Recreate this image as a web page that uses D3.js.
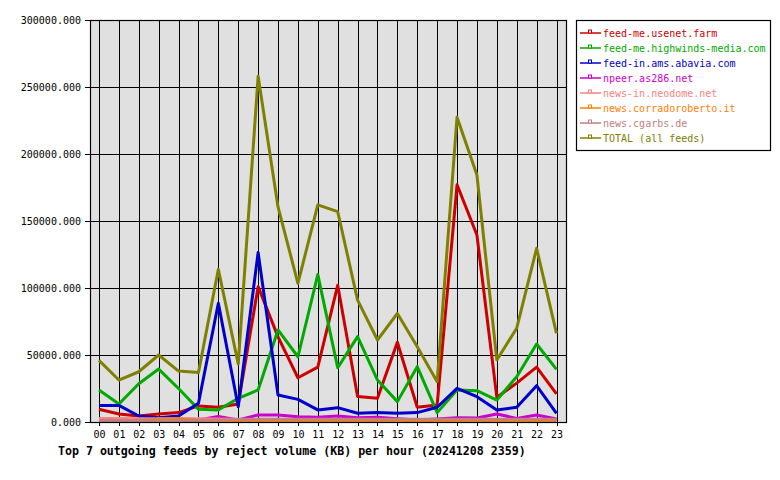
<!DOCTYPE html>
<html>
<head>
<meta charset="utf-8">
<script src="https://cdn.jsdelivr.net/npm/d3@7"></script>
<style>
  body { margin: 0; background: #fff; }
  text { font-family: "DejaVu Sans Mono", "Liberation Mono", monospace; }
</style>
</head>
<body>
<div id="chart"></div>
<script>
const hours = ["00","01","02","03","04","05","06","07","08","09","10","11",
               "12","13","14","15","16","17","18","19","20","21","22","23"];

const feedNames = ["feed-me.usenet.farm", "feed-me.highwinds-media.com", "feed-in.ams.abavia.com",
  "npeer.as286.net", "news-in.neodome.net", "news.corradoroberto.it", "news.cgarbs.de", "TOTAL (all feeds)"];
const feedColors = ["#cc0000", "#00aa00", "#0000cc", "#cc00cc", "#ff8080", "#ff8000", "#c08080", "#808000"];

// KB per hour
const usenetFarm = [9500, 6000, 4500, 6000, 7000, 12000, 11000, 13500, 101000, 63500, 33000, 41000,
                    102000, 19000, 17700, 59500, 11000, 12700, 177000, 139500, 18500, 29000, 41000, 21000];
const highwinds  = [23900, 13400, 28500, 39500, 25000, 9500, 9000, 17700, 23900, 68700, 48700, 110000,
                    40500, 63700, 31300, 15200, 41300, 7000, 23900, 23400, 16400, 33800, 58200, 39300];
const abavia     = [12400, 12400, 4500, 3200, 4500, 14000, 88600, 11400, 126500, 20100, 16900, 9000,
                    10700, 6500, 7000, 6500, 7000, 11000, 25100, 18900, 9000, 11000, 27100, 6500];
const npeer      = [1000, 800, 500, 600, 800, 1500, 4200, 1500, 5200, 5200, 4000, 3500,
                    4500, 3200, 3500, 2500, 1500, 2200, 3200, 3000, 6000, 2700, 5200, 2200];
const neodome    = [2600, 2600, 2500, 2500, 2400, 2400, 2300, 2100, 1900, 1900, 1900, 1900,
                    1900, 1900, 1900, 1900, 1900, 1700, 1700, 1700, 1700, 1700, 1700, 1700];
const corrado    = [1200, 1200, 1200, 2300, 2500, 1300, 1200, 1200, 1200, 1200, 1200, 1200,
                    1200, 1200, 1200, 1200, 1200, 1200, 1200, 1200, 1200, 1200, 1200, 1200];
const cgarbs     = [1200, 1200, 1200, 1200, 1200, 1300, 1500, 1800, 2000, 2000, 2000, 2000,
                    2000, 2000, 2000, 2000, 2000, 2000, 2000, 2000, 2000, 2000, 2000, 2000];
const total      = [46000, 31300, 37500, 50000, 38000, 37000, 114000, 43300, 258000, 160500, 103500, 162000,
                    157000, 91000, 61200, 81000, 56200, 30100, 227500, 184300, 46300, 70000, 129600, 66200];

const yTicks = [0, 50000, 100000, 150000, 200000, 250000, 300000];
const title = "Top 7 outgoing feeds by reject volume (KB) per hour (20241208 2359)";

const series = [usenetFarm, highwinds, abavia, npeer, neodome, corrado, cgarbs, total];

const width = 780, height = 480;
const plot = { left: 90, top: 20, right: 566, bottom: 422 };

const svg = d3.select("#chart").append("svg")
  .attr("width", width)
  .attr("height", height);

svg.append("clipPath").attr("id", "plotclip")
  .append("rect")
  .attr("x", plot.left).attr("y", plot.top)
  .attr("width", plot.right - plot.left).attr("height", plot.bottom - plot.top);

const x = d3.scaleLinear().domain([0, 23]).range([99, 556.5]);
const y = d3.scaleLinear().domain([0, 300000]).range([plot.bottom, plot.top]);

// plot background
svg.append("rect")
  .attr("x", plot.left).attr("y", plot.top)
  .attr("width", plot.right - plot.left).attr("height", plot.bottom - plot.top)
  .attr("fill", "#e0e0e0");

// grid
svg.append("g").selectAll("line").data(hours).join("line")
  .attr("x1", (d, i) => Math.round(x(i)) + 0.5).attr("x2", (d, i) => Math.round(x(i)) + 0.5)
  .attr("y1", plot.top).attr("y2", plot.bottom + 4)
  .attr("stroke", "#000").attr("shape-rendering", "crispEdges");

svg.append("g").selectAll("line").data(yTicks).join("line")
  .attr("x1", plot.left - 5).attr("x2", plot.right)
  .attr("y1", d => Math.round(y(d)) + 0.5).attr("y2", d => Math.round(y(d)) + 0.5)
  .attr("stroke", "#000").attr("shape-rendering", "crispEdges");

// axis labels
svg.append("g").selectAll("text").data(yTicks).join("text")
  .attr("x", 81).attr("y", d => y(d) + 4)
  .attr("text-anchor", "end")
  .attr("font-size", "10px")
  .text(d => d3.format(".3f")(d));

svg.append("g").selectAll("text").data(hours).join("text")
  .attr("x", (d, i) => x(i) + 0.5).attr("y", 438)
  .attr("text-anchor", "middle")
  .attr("font-size", "10px")
  .text(d => d);

svg.append("text")
  .attr("x", 58).attr("y", 455)
  .attr("font-size", "11.6px")
  .attr("font-weight", "bold")
  .text(title);

// series lines
const line = d3.line()
  .x((d, i) => x(i))
  .y(d => y(d));

svg.append("g").attr("clip-path", "url(#plotclip)")
  .selectAll("path").data(series).join("path")
  .attr("d", d => line(d))
  .attr("fill", "none")
  .attr("stroke", (d, i) => feedColors[i])
  .attr("stroke-width", 3)
  .attr("stroke-linejoin", "round");

// plot frame
svg.append("rect")
  .attr("x", plot.left + 0.5).attr("y", plot.top + 0.5)
  .attr("width", plot.right - plot.left).attr("height", plot.bottom - plot.top)
  .attr("fill", "none").attr("stroke", "#000").attr("stroke-width", 1.2);

// legend
const legend = svg.append("g");
legend.append("rect")
  .attr("x", 576.5).attr("y", 20.5).attr("width", 194).attr("height", 130)
  .attr("fill", "#fff").attr("stroke", "#000").attr("stroke-width", 1.2);

const items = legend.selectAll("g.item").data(feedNames).join("g")
  .attr("class", "item")
  .attr("transform", (d, i) => `translate(0,${32.5 + i * 15})`);

items.append("line")
  .attr("x1", 580).attr("x2", 601).attr("y1", 0.5).attr("y2", 0.5)
  .attr("stroke", (d, i) => feedColors[i]).attr("stroke-width", 1.5);

items.append("rect")
  .attr("x", 588.5).attr("y", -2.5).attr("width", 3).attr("height", 3)
  .attr("fill", "#fff").attr("stroke", (d, i) => feedColors[i]).attr("stroke-width", 1);

items.append("text")
  .attr("x", 603).attr("y", 4)
  .attr("font-size", "10px")
  .attr("fill", (d, i) => feedColors[i])
  .text(d => d);
</script>
</body>
</html>
